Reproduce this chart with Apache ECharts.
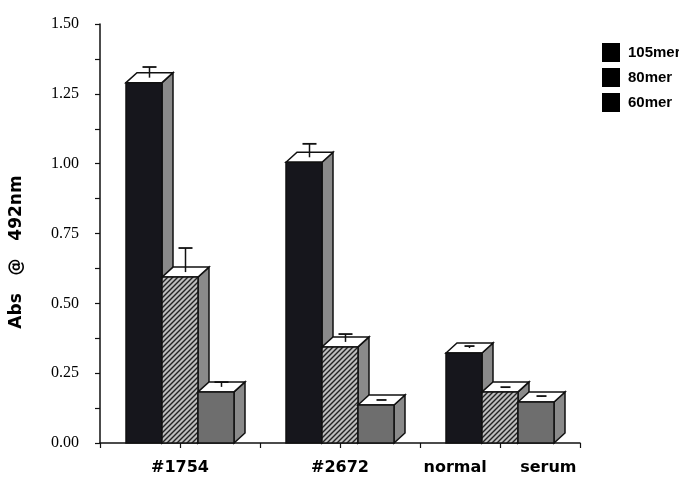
<!DOCTYPE html>
<html>
<head>
<meta charset="utf-8">
<script src="https://cdn.jsdelivr.net/npm/echarts@6/dist/echarts.min.js"></script>
<style>html,body{margin:0;padding:0;background:#fff;}#c{width:679px;height:477px;}</style>
</head>
<body>
<div id="c"></div>
<script>
// ---- data ----
var categories = ['#1754', '#2672', 'normal      serum'];
var seriesNames = ['105mer', '80mer', '60mer'];
var values105 = [1.29, 1.005, 0.322];
var values80 = [0.594, 0.344, 0.183];
var values60 = [0.183, 0.136, 0.147];
var errTop105 = [1.346, 1.071, 0.347];
var errTop80 = [0.698, 0.390, 0.200];
var errTop60 = [0.218, 0.154, 0.168];
var yTicks = [0, 0.25, 0.5, 0.75, 1.0, 1.25, 1.5];

// hatch pattern
function makeHatch() {
  var s = 5;
  var c = document.createElement('canvas');
  c.width = s; c.height = s;
  var g = c.getContext('2d');
  g.fillStyle = '#bdbdbd';
  g.fillRect(0, 0, s, s);
  g.strokeStyle = '#222';
  g.lineWidth = 1.4;
  g.beginPath();
  g.moveTo(0, s); g.lineTo(s, 0);
  g.moveTo(-1, 1); g.lineTo(1, -1);
  g.moveTo(s - 1, s + 1); g.lineTo(s + 1, s - 1);
  g.stroke();
  return c;
}
var hatch = makeHatch();
var frontFills = ['#16161c', {type: 'pattern', image: hatch, repeat: 'repeat'}, '#6e6e6e'];
var sideFill = '#8a8a8a';
var DX = 11, DY = 10;

function makeRender(k) {
  return function (params, api) {
    var i = api.value(0), v = api.value(1), e = api.value(2);
    var base = api.coord([i, 0]);
    var top = api.coord([i, v]);
    var catW = api.size([1, 0])[0];
    var bw = catW * 0.225;
    var x0 = base[0] - 1.5 * bw + k * bw;
    var ty = top[1], by = base[1];
    var st = {stroke: '#111', lineWidth: 1.5};
    var children = [];
    children.push({type: 'polygon', shape: {points: [[x0 + bw, ty], [x0 + bw + DX, ty - DY], [x0 + bw + DX, by - DY], [x0 + bw, by]]},
      style: Object.assign({fill: sideFill}, st)});
    children.push({type: 'polygon', shape: {points: [[x0, ty], [x0 + DX, ty - DY], [x0 + bw + DX, ty - DY], [x0 + bw, ty]]},
      style: Object.assign({fill: '#fff'}, st)});
    children.push({type: 'rect', shape: {x: x0, y: ty, width: bw, height: by - ty},
      style: Object.assign({fill: frontFills[k]}, st)});
    var cx = x0 + bw / 2 + DX / 2, cy = ty - DY / 2;
    var capY = api.coord([i, e])[1];
    if (capY < cy) {
      children.push({type: 'line', shape: {x1: cx, y1: cy, x2: cx, y2: capY}, style: {stroke: '#111', lineWidth: 1.5}});
    }
    var hw = capY < cy - 4 ? 7 : 5;
    children.push({type: 'line', shape: {x1: cx - hw, y1: capY, x2: cx + hw, y2: capY}, style: {stroke: '#111', lineWidth: 1.8}});
    return {type: 'group', children: children};
  };
}

function mk(vals, errs) {
  return vals.map(function (v, i) { return [i, v, errs[i]]; });
}
var allVals = [values105, values80, values60];
var allErr = [errTop105, errTop80, errTop60];

var chart = echarts.init(document.getElementById('c'), null, {renderer: 'canvas'});
chart.setOption({
  animation: false,
  backgroundColor: '#fff',
  grid: {left: 100, right: 99, top: 24, bottom: 34},
  legend: {
    orient: 'vertical', left: 597, top: 38,
    itemWidth: 18, itemHeight: 19, itemGap: 6,
    icon: 'rect',
    textStyle: {fontFamily: "'Liberation Sans', Arial, sans-serif", fontWeight: 'bold', fontSize: 15, color: '#000', padding: [0, 0, 0, 3]},
    data: seriesNames.map(function (n) { return {name: n, itemStyle: {color: '#000'}}; })
  },
  xAxis: [{
    type: 'category', data: categories,
    axisLine: {show: false}, axisTick: {show: false},
    axisLabel: {interval: 0, hideOverlap: false, margin: 17, fontFamily: "'DejaVu Sans', sans-serif", fontWeight: 'bold', fontSize: 16, color: '#000'}
  }, {
    type: 'value', min: 0, max: 6, interval: 1, position: 'bottom',
    axisLine: {show: true, lineStyle: {color: '#111', width: 1.5}},
    axisTick: {show: true, length: 5, lineStyle: {color: '#111', width: 1.2}},
    axisLabel: {show: false}, splitLine: {show: false}
  }],
  yAxis: {
    type: 'value', min: yTicks[0], max: yTicks[yTicks.length - 1], interval: 0.25,
    axisLine: {show: true, lineStyle: {color: '#111', width: 1.5}},
    axisTick: {show: true, length: 5, lineStyle: {color: '#111', width: 1.2}},
    minorTick: {show: true, splitNumber: 2, length: 5, lineStyle: {color: '#111', width: 1.2}},
    splitLine: {show: false},
    axisLabel: {margin: 21, fontFamily: "'Liberation Serif', 'Times New Roman', serif", fontSize: 16, color: '#000',
      formatter: function (v) { return v.toFixed(2); }}
  },
  graphic: [{
    type: 'text', x: 17, y: 252, rotation: Math.PI / 2,
    style: {text: 'Abs   @   492nm', fill: '#000', font: "bold 17px 'DejaVu Sans', sans-serif", align: 'center', verticalAlign: 'middle'}
  }],
  series: seriesNames.map(function (n, k) {
    return {
      name: n, type: 'custom', xAxisIndex: 0, yAxisIndex: 0,
      itemStyle: {color: '#000'},
      renderItem: makeRender(k),
      encode: {x: 0, y: 1},
      data: mk(allVals[k], allErr[k]),
      clip: false, z: 2
    };
  })
});
</script>
</body>
</html>
